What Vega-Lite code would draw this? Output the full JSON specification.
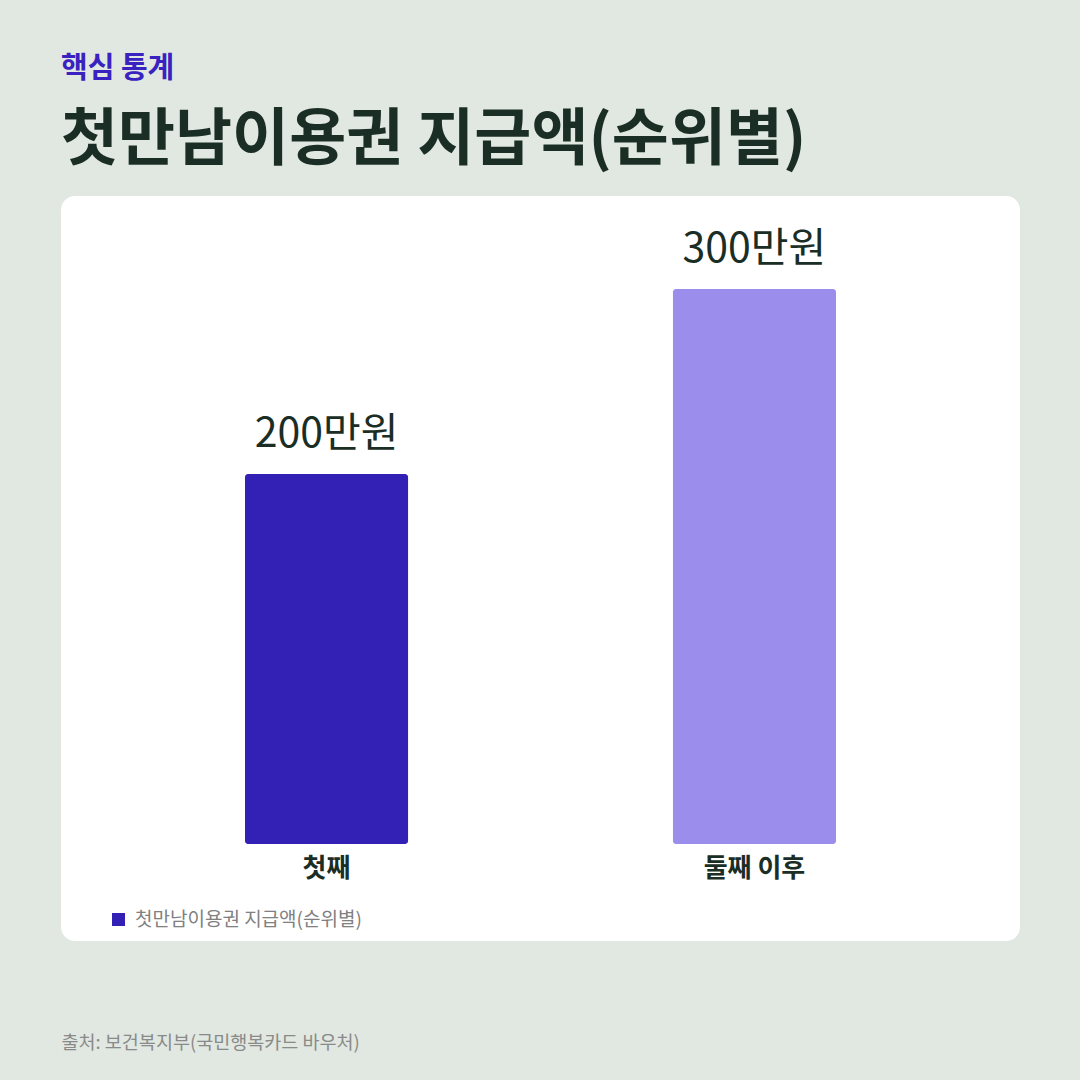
{
  "$schema": "https://vega.github.io/schema/vega-lite/v6.json",
  "width": 959,
  "height": 745,
  "autosize": {"type": "none"},
  "padding": {"left": 61, "top": 196, "right": 60, "bottom": 139},
  "background": "#e0e8e1",
  "config": {
    "font": "Noto Sans CJK KR",
    "view": {"fill": "white", "stroke": null, "cornerRadius": 14}
  },
  "title": {
    "text": "핵심 통계",
    "subtitle": "첫만남이용권 지급액(순위별)",
    "anchor": "start",
    "frame": "group",
    "orient": "top",
    "offset": 24,
    "font": "Noto Sans CJK KR",
    "fontSize": 29,
    "fontWeight": "bold",
    "color": "#3a22c0",
    "subtitleFont": "Noto Sans CJK KR",
    "subtitleFontSize": 62,
    "subtitleFontWeight": "bold",
    "subtitleColor": "#1a2e25",
    "subtitlePadding": 27
  },
  "data": {
    "values": [
      {"rank": "첫째", "amount": 200, "label": "200만원", "series": "첫만남이용권 지급액(순위별)"},
      {"rank": "둘째 이후", "amount": 300, "label": "300만원", "series": "첫만남이용권 지급액(순위별)"}
    ]
  },
  "encoding": {
    "x": {
      "field": "rank",
      "type": "nominal",
      "sort": null,
      "scale": {"paddingInner": 0.619, "paddingOuter": 0.43},
      "axis": {
        "labels": false,
        "ticks": false,
        "domain": false,
        "grid": false,
        "title": "출처: 보건복지부(국민행복카드 바우처)",
        "titleAnchor": "start",
        "titleAlign": "left",
        "titleX": 0,
        "titleY": 101,
        "titleBaseline": "middle",
        "titleFont": "Noto Sans CJK KR",
        "titleFontSize": 18.5,
        "titleFontWeight": "normal",
        "titleColor": "#8a8a8a"
      }
    }
  },
  "layer": [
    {
      "mark": {"type": "bar", "cornerRadius": 3},
      "encoding": {
        "y": {
          "field": "amount",
          "type": "quantitative",
          "scale": {"domain": [-52.4, 350.3], "nice": false, "zero": false},
          "axis": null
        },
        "y2": {"datum": 0},
        "color": {
          "field": "series",
          "type": "nominal",
          "scale": {"range": ["#3320b5"]},
          "condition": {"test": "datum.rank === '둘째 이후'", "value": "#9b8deb"},
          "legend": {
            "orient": "none",
            "legendX": 48,
            "legendY": 714,
            "title": null,
            "symbolType": "square",
            "symbolSize": 169,
            "symbolStrokeWidth": 0,
            "labelFont": "Noto Sans CJK KR",
            "labelFontSize": 19,
            "labelColor": "#808080",
            "labelOffset": 7,
            "labelLimit": 600
          }
        }
      }
    },
    {
      "mark": {"type": "text", "baseline": "alphabetic", "dy": -27, "fontSize": 41, "fontWeight": "normal", "color": "#1a2e25", "font": "Noto Sans CJK KR"},
      "encoding": {
        "y": {"field": "amount", "type": "quantitative"},
        "text": {"field": "label"}
      }
    },
    {
      "mark": {"type": "text", "baseline": "middle", "dy": 25, "fontSize": 26, "fontWeight": "bold", "color": "#1a2e25", "font": "Noto Sans CJK KR"},
      "encoding": {
        "y": {"datum": 0},
        "text": {"field": "rank"}
      }
    }
  ]
}
